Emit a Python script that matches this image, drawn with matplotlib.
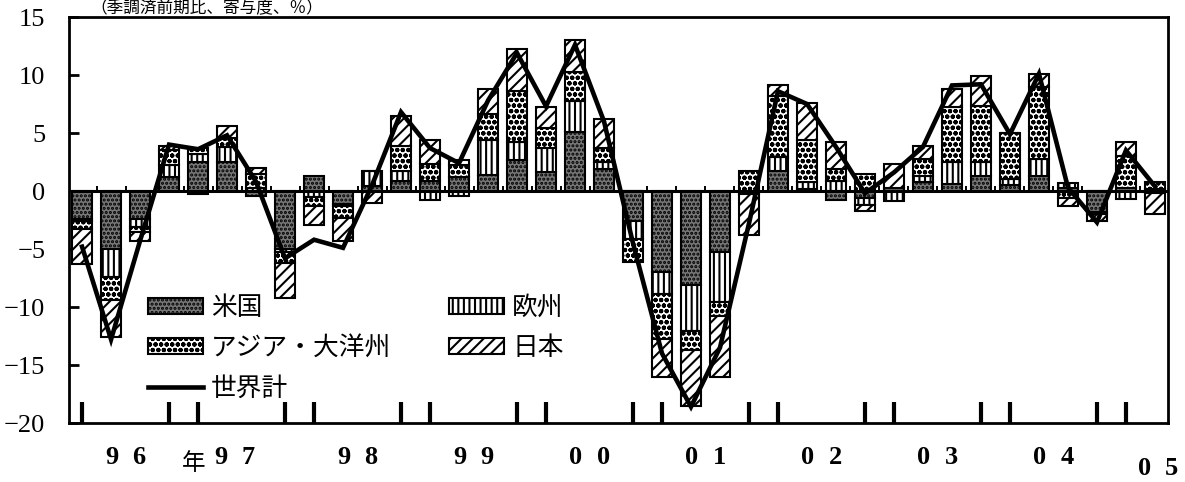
import matplotlib
matplotlib.use("Agg")
import matplotlib.pyplot as plt
import numpy as np
from matplotlib.patches import Patch
from matplotlib.lines import Line2D

# quarterly contributions, 1996Q1 - 2005Q2
quarters = ["96Q1", "96Q2", "96Q3", "96Q4", "97Q1", "97Q2", "97Q3", "97Q4",
            "98Q1", "98Q2", "98Q3", "98Q4", "99Q1", "99Q2", "99Q3", "99Q4",
            "00Q1", "00Q2", "00Q3", "00Q4", "01Q1", "01Q2", "01Q3", "01Q4",
            "02Q1", "02Q2", "02Q3", "02Q4", "03Q1", "03Q2", "03Q3", "03Q4",
            "04Q1", "04Q2", "04Q3", "04Q4", "05Q1", "05Q2"]
us = [-2.4, -5.0, -2.4, 1.2, 2.5, 2.5, -0.4, -5.0,
      1.3, -1.1, 0.4, 0.9, 0.9, 1.2, 1.4, 2.7,
      1.6, 5.1, 1.9, -2.6, -7.0, -8.1, -5.3, -0.3,
      1.7, 0.2, -0.8, -0.6, 0.3, 0.8, 0.6, 1.3,
      0.5, 1.3, 0.3, -1.8, 0.3, 0.2]
europe = [-0.2, -2.4, -0.7, 1.0, 0.7, 1.3, 0.3, -0.3,
          -0.5, -0.2, 1.3, 0.8, -0.8, -0.4, 3.0, 1.5,
          2.1, 2.7, 0.6, -1.5, -1.9, -4.0, -4.3, 0.0,
          1.2, 0.6, 0.9, -0.6, -0.9, 0.5, 1.9, 1.2,
          0.5, 1.5, 0.4, -0.2, -0.7, -0.2]
asia = [-0.7, -2.0, -0.4, 1.3, 0.5, 0.8, 1.2, -0.9,
        -0.8, -1.0, 0.0, 2.2, 1.4, 1.0, 2.2, 4.4,
        1.7, 2.5, 1.2, -2.0, -3.9, -1.6, -1.2, 1.7,
        5.3, 3.6, 1.0, 1.5, 0.0, 1.5, 4.7, 4.8,
        4.0, 6.2, -0.6, 0.0, 2.7, 0.6]
japan = [-3.0, -3.2, -0.8, 0.4, -0.3, 1.0, 0.5, -3.0,
         -1.6, -2.0, -1.0, 2.6, 2.1, 0.5, 2.2, 3.6,
         1.8, 2.7, 2.5, 0.0, -3.2, -4.8, -5.2, -3.5,
         0.9, 3.2, 2.3, -0.5, 2.0, 1.1, 1.6, 2.6,
         0.0, 1.1, -0.7, -0.6, 1.2, -1.8]
world = [-4.8, -12.8, -4.3, 4.0, 3.6, 4.8, 0.8, -5.8,
         -4.2, -4.9, 0.5, 6.8, 3.7, 2.4, 7.8, 11.9,
         7.3, 12.6, 6.0, -4.5, -14.0, -18.6, -13.5, -2.8,
         8.6, 7.5, 3.8, -0.2, 1.6, 3.8, 9.1, 9.2,
         4.9, 10.1, 0.3, -2.7, 3.5, 0.4]
years = ["96", "97", "98", "99", "00", "01", "02", "03", "04", "05"]

names = ["米国", "欧州", "アジア・大洋州", "日本"]
series = [us, europe, asia, japan]
styles = [dict(facecolor="#777777", hatch="...."),
          dict(facecolor="white", hatch="|||"),
          dict(facecolor="white", hatch="ooo"),
          dict(facecolor="white", hatch="///")]

plt.rcParams["font.family"] = ["Liberation Serif", "Noto Sans CJK JP"]
plt.rcParams["hatch.linewidth"] = 1.5
plt.rcParams["hatch.color"] = "black"
jp_font = ["Noto Sans CJK JP", "DejaVu Sans"]

fig = plt.figure(figsize=(11.85, 4.82), dpi=100)
ax = fig.add_axes([69/1185, 1-423/482, 1099/1185, 406/482])

x = np.arange(len(quarters))
pos_base = np.zeros(len(x))
neg_base = np.zeros(len(x))
for vals, st in zip(series, styles):
    v = np.array(vals)
    bottom = np.where(v >= 0, pos_base, neg_base)
    ax.bar(x, v, width=0.72, bottom=bottom, edgecolor="black",
           linewidth=1.5, zorder=3, **st)
    pos_base += np.clip(v, 0, None)
    neg_base += np.clip(v, None, 0)

ax.axhline(0, color="black", lw=2.2, zorder=4)
ax.vlines(x[:-1] + 0.5, 0, 0.45, color="black", lw=1.4, zorder=4)
ax.plot(x, world, color="black", lw=3.3, solid_joinstyle="miter", zorder=6)

ax.set_xlim(-0.45, 37.45)
ax.set_ylim(-20, 15)
ax.set_yticks(range(-20, 16, 5))
ax.tick_params(axis="y", direction="in", length=7, width=2, pad=17,
               labelsize=19)

# year boundary marks at Q4 / Q1
bticks = [i for i, q in enumerate(quarters) if q.endswith(("Q1", "Q4"))]
ax.set_xticks(bticks)
ax.tick_params(axis="x", direction="in", length=15, width=3,
               labelbottom=False)
for s in ax.spines.values():
    s.set_linewidth(2)

tr = ax.get_xaxis_transform()
for k, yr in enumerate(years):
    c = 4 * k + 1.5
    yy = -0.084
    if k == 1:
        c -= 0.25
    if k == len(years) - 1:
        c = 37.1
        yy = -0.112
    ax.text(c - 0.47, yy, yr[0], transform=tr, ha="center", va="center",
            fontsize=19, fontweight="bold", clip_on=False)
    ax.text(c + 0.47, yy, yr[1], transform=tr, ha="center", va="center",
            fontsize=19, fontweight="bold", clip_on=False)
ax.text(3.85, -0.1, "年", transform=tr, ha="center", va="center",
        fontsize=17, family=jp_font)

handles = [Patch(edgecolor="black", linewidth=1.5, **styles[0]),
           Patch(edgecolor="black", linewidth=1.5, **styles[2]),
           Line2D([], [], color="black", lw=3.3),
           Patch(edgecolor="black", linewidth=1.5, **styles[1]),
           Patch(edgecolor="black", linewidth=1.5, **styles[3])]
labels = [names[0], names[2], "世界計", names[1], names[3]]
ax.legend(handles, labels, ncol=2, frameon=False, loc="upper left",
          bbox_to_anchor=(0.072, 0.315), prop={"family": jp_font, "size": 18.5},
          handlelength=2.15, handleheight=0.58, handletextpad=0.3,
          columnspacing=2.25, labelspacing=0.55, borderpad=0, borderaxespad=0)

fig.text(90/1185, 1.0, "（季調済前期比、寄与度、％）", ha="left",
         va="top", fontsize=12, family=jp_font)

fig.savefig("out.png", dpi=100)
